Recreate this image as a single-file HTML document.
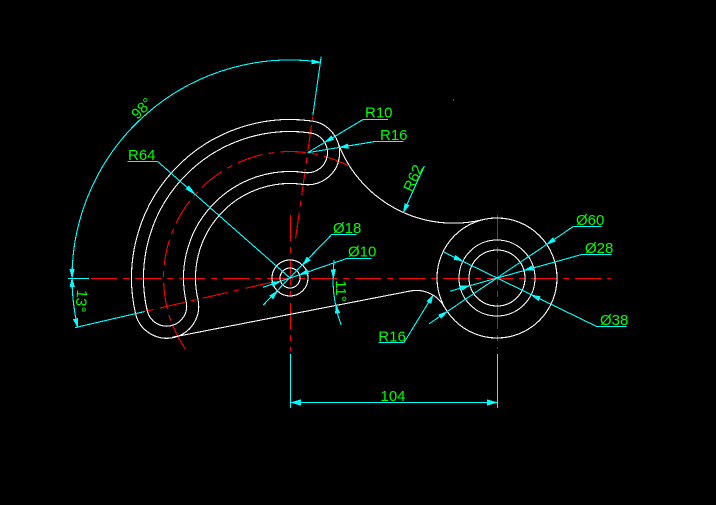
<!DOCTYPE html>
<html>
<head>
<meta charset="utf-8">
<style>
  html, body { margin:0; padding:0; background:#000; }
  body { width:716px; height:505px; overflow:hidden; }
  svg { display:block; }
  .g { shape-rendering:crispEdges; }
  .w { stroke:#fff; fill:none; stroke-width:1.1; }
  .c { stroke:#00ffff; fill:none; stroke-width:1.1; }
  .r { stroke:#ff0000; fill:none; stroke-width:1.1; stroke-dasharray:26 6 6 6; }
  .a { fill:#00ffff; stroke:#00ffff; stroke-width:0.6; }
  text { font-family:"Liberation Sans", "DejaVu Sans", sans-serif; font-size:15px; fill:#00ff00; }
</style>
</head>
<body>
<svg width="716" height="505" viewBox="0 0 716 505" xmlns="http://www.w3.org/2000/svg">
  <rect width="716" height="505" fill="#000"/>
  <g class="g">
  <!-- ===== red centre lines ===== -->
  <line class="r" x1="91" y1="278.5" x2="611" y2="278.5"/>
  <line class="r" x1="290.5" y1="215" x2="290.5" y2="351"/>
  <line class="r" x1="497.5" y1="215" x2="497.5" y2="349"/>
  <path class="r" d="M348.0,165.6 A126.5,126.5 0 0 0 188.3,353.2"/>
  <line class="r" x1="295.6" y1="238.4" x2="312.7" y2="116.6"/>
  <line class="r" x1="270.5" y1="282.5" x2="144.8" y2="311.5"/>

  <!-- ===== white geometry ===== -->
  <path class="w" d="M312.06,121.04 A158.5,158.5 0 0 0 135.56,313.65 A32,32 0 0 0 197.92,299.26 A94.5,94.5 0 0 1 303.15,184.42 A32,32 0 0 0 312.06,121.04 Z"/>
  <path class="w" d="M310.39,132.93 A146.5,146.5 0 0 0 147.26,310.96 A20,20 0 0 0 186.23,301.96 A106.5,106.5 0 0 1 304.82,172.54 A20,20 0 0 0 310.39,132.93 Z"/>
  <path class="w" d="M337.7,141.8 A123.2,123.2 0 0 0 482.7,219.7"/>
  <path class="w" d="M172.5,337.2 L410.3,291.0 A32,32 0 0 1 444.4,307.0"/>
  <circle class="w" cx="290" cy="278" r="18"/>
  <circle class="w" cx="290" cy="278" r="10"/>
  <circle class="w" cx="497" cy="278" r="60"/>
  <circle class="w" cx="497" cy="278" r="38"/>
  <circle class="w" cx="497" cy="278" r="28"/>

  <rect x="453" y="99.5" width="1.2" height="1.2" fill="#00ffff"/>

  <!-- ===== angular dims 98° / 13° ===== -->
  <line class="c" x1="312.8" y1="115.6" x2="321.2" y2="56.5"/>
  <line class="c" x1="144.8" y1="311.5" x2="75.0" y2="327.6"/>
  <line class="c" x1="68" y1="278.5" x2="89" y2="278.5"/>
  <path class="c" d="M320.3,62.1 A218,218 0 0 0 72,278"/>
  <path class="c" d="M72,278 A218,218 0 0 0 77.6,327.0"/>
  <polygon class="a" points="320.3,62.1 311.6,59.6 311.9,64.0"/>
  <polygon class="a" points="72,278 69.9,269.3 74.3,269.4"/>
  <polygon class="a" points="72,278 70.0,286.6 74.4,286.5"/>
  <polygon class="a" points="77.6,327.0 73.3,319.5 77.6,318.4"/>

  <!-- ===== 11° dim ===== -->
  <path class="c" d="M334.2,260 A140,140 0 0 0 341.1,325"/>
  <polygon class="a" points="333.4,278 331.1,269.6 335.5,269.5"/>
  <polygon class="a" points="336.0,304.7 335.4,313.4 339.7,312.6"/>

  <!-- ===== R64 ===== -->
  <line class="c" x1="127.5" y1="161.5" x2="157.7" y2="161.5"/>
  <line class="c" x1="157.7" y1="161.5" x2="290" y2="278"/>
  <polygon class="a" points="195.1,194.4 186.0,189.1 188.9,185.8"/>

  <!-- ===== R10 / R16 at slot end ===== -->
  <line class="c" x1="363" y1="119.5" x2="388" y2="119.5"/>
  <line class="c" x1="363" y1="119.5" x2="307.6" y2="152.7"/>
  <polygon class="a" points="324.7,142.4 331.3,135.8 333.6,139.6"/>
  <line class="c" x1="375" y1="141.5" x2="403.3" y2="141.5"/>
  <line class="c" x1="375" y1="141.5" x2="307.6" y2="152.7"/>
  <polygon class="a" points="339.2,147.5 347.8,143.9 348.5,148.3"/>

  <!-- ===== R62 ===== -->
  <line class="c" x1="403.3" y1="212.6" x2="424.3" y2="166"/>
  <polygon class="a" points="403.3,212.6 404.9,203.6 409.0,205.4"/>

  <!-- ===== Ø18 / Ø10 ===== -->
  <line class="c" x1="331.7" y1="234.5" x2="356.7" y2="234.5"/>
  <line class="c" x1="331.7" y1="234.5" x2="263.3" y2="305"/>
  <polygon class="a" points="302.5,265.1 307.0,257.0 310.3,260.2"/>
  <polygon class="a" points="277.5,290.9 273.0,299.0 269.7,295.8"/>
  <line class="c" x1="346.7" y1="258.5" x2="371.7" y2="258.5"/>
  <line class="c" x1="346.7" y1="258.5" x2="263" y2="287.3"/>
  <polygon class="a" points="299.45,274.7 307.2,269.7 308.7,273.9"/>
  <polygon class="a" points="280.55,281.3 272.8,286.3 271.3,282.1"/>

  <!-- ===== right circle diameters ===== -->
  <line class="c" x1="573.3" y1="226.5" x2="601.7" y2="226.5"/>
  <line class="c" x1="573.3" y1="226.5" x2="429" y2="323.8"/>
  <polygon class="a" points="546.7,244.5 552.9,237.6 555.4,241.3"/>
  <polygon class="a" points="447.3,311.5 441.1,318.4 438.6,314.7"/>
  <line class="c" x1="581.7" y1="254.5" x2="611.7" y2="254.5"/>
  <line class="c" x1="581.7" y1="254.5" x2="450" y2="291.2"/>
  <polygon class="a" points="524,270.5 532.0,265.8 533.2,270.1"/>
  <polygon class="a" points="470,285.5 462.0,290.2 460.8,285.9"/>
  <line class="c" x1="596.7" y1="326.5" x2="626.7" y2="326.5"/>
  <line class="c" x1="596.7" y1="326.5" x2="443.3" y2="251.8"/>
  <polygon class="a" points="531.1,294.7 540.2,296.6 538.3,300.6"/>
  <polygon class="a" points="462.9,261.3 453.8,259.4 455.7,255.4"/>

  <!-- ===== R16 fillet ===== -->
  <line class="c" x1="378.3" y1="342.5" x2="404" y2="342.5"/>
  <line class="c" x1="404" y1="342.5" x2="433.1" y2="295.1"/>
  <polygon class="a" points="433.1,295.1 431.0,303.5 427.2,301.2"/>

  <!-- ===== 104 ===== -->
  <line class="c" x1="290.5" y1="354" x2="290.5" y2="408"/>
  <line class="c" x1="497.5" y1="354" x2="497.5" y2="408"/>
  <line class="c" x1="290.5" y1="402.5" x2="497.5" y2="402.5"/>
  <polygon class="a" points="291,402.5 300.5,399.8 300.5,405.2"/>
  <polygon class="a" points="497,402.5 487.5,399.8 487.5,405.2"/>
  </g>

  <!-- ===== text ===== -->
  <text x="141.7" y="108.3" text-anchor="middle" dy="0.35em" transform="rotate(-45 141.7 108.3)">98°</text>
  <text x="81.5" y="301" text-anchor="middle" dy="0.35em" transform="rotate(95 81.5 301)">13°</text>
  <text x="341" y="291" text-anchor="middle" dy="0.35em" transform="rotate(90 341 291)">11°</text>
  <text x="128" y="160">R64</text>
  <text x="365" y="117.5">R10</text>
  <text x="380" y="140">R16</text>
  <text x="413" y="178" text-anchor="middle" dy="0.35em" transform="rotate(-66 413 178)">R62</text>
  <text x="333" y="233">Ø18</text>
  <text x="348" y="256.5">Ø10</text>
  <text x="576" y="225">Ø60</text>
  <text x="585" y="253">Ø28</text>
  <text x="600" y="325">Ø38</text>
  <text x="378.3" y="341.5">R16</text>
  <text x="393" y="401" text-anchor="middle">104</text>
</svg>
</body>
</html>
